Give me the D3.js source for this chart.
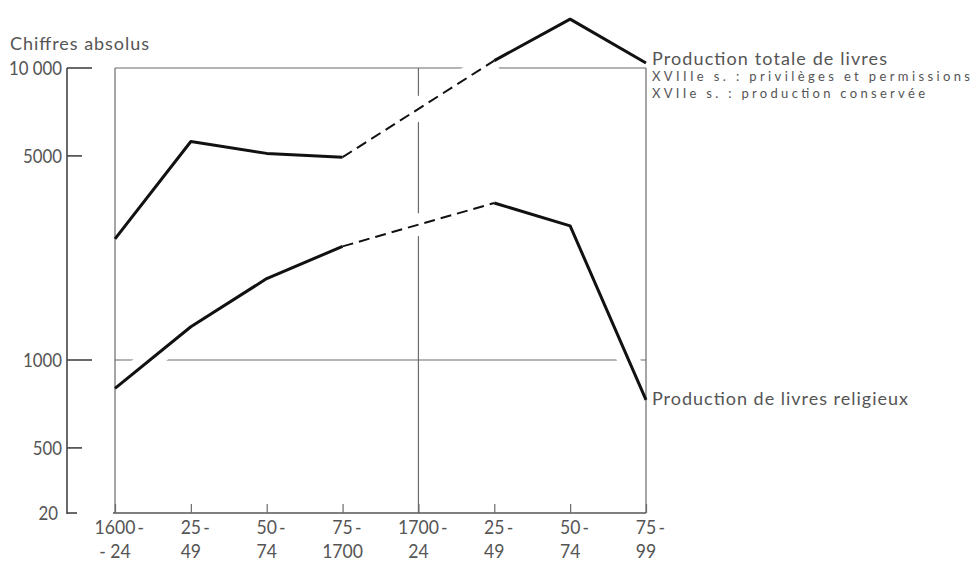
<!DOCTYPE html>
<html>
<head>
<meta charset="utf-8">
<script src="https://cdn.jsdelivr.net/npm/d3@7"></script>
<style>
  body { margin: 0; background: #fff; }
  text { fill: #555; }
</style>
</head>
<body>
<svg id="chart" width="972" height="563"></svg>
<script>
// Book production in France, 1600-1799, by quarter century (log scale)
const periodStart = ["1600", "25", "50", "75", "1700", "25", "50", "75"];
const periodEnd   = ["- 24", "49", "74", "1700", "24", "49", "74", "99"];
// null = no figure for that quarter century (bridged by a dashed line)
const totalBooks     = [2600, 5600, 5100, 4950, null, 10600, 14700, 10400];
const religiousBooks = [800, 1300, 1900, 2450, null, 3450, 2880, 730];

const yTicks      = [10000, 5000, 1000, 500];
const yTickLabels = ["10 000", "5000", "1000", "500"];
const yTickLong   = [true, false, true, false];
const axisFootLabel = "20";
const yTitle = "Chiffres absolus";
const totalLabel = ["Production totale de livres",
                    "XVIIIe s. : privilèges et permissions",
                    "XVIIe s. : production conservée"];
const religiousLabel = "Production de livres religieux";

const svg = d3.select("#chart");
const idx = d3.range(periodStart.length);

const x = d3.scalePoint().domain(idx).range([115, 646]);
const y = d3.scaleLog().domain([1000, 10000]).range([360, 68]);
const yBottom = 513;      // foot of the broken axis
const axisX = 67;

const numFont = "Lato, 'Open Sans', sans-serif";
const txtFont = "Lato, 'Open Sans', sans-serif";
const gridColor = "#6a6a6a";

// narrow the figures the way a condensed face would
function condense(sel, k) {
  sel.each(function () {
    const w = this.getComputedTextLength();
    d3.select(this).attr("textLength", w * k).attr("lengthAdjust", "spacingAndGlyphs");
  });
}

// ---- grid lines that the curves cut through -------------------------------
const grid = svg.append("g").attr("stroke", gridColor).attr("stroke-width", 1.2);
grid.append("line").attr("x1", x(0)).attr("x2", x(7)).attr("y1", y(10000)).attr("y2", y(10000));
grid.append("line").attr("x1", x(0)).attr("x2", x(7)).attr("y1", y(1000)).attr("y2", y(1000));
grid.append("line").attr("x1", x(4)).attr("x2", x(4)).attr("y1", y(10000)).attr("y2", yBottom);

// ---- line generators ------------------------------------------------------
const pts = arr => idx.map(i => ({ i, v: arr[i] }));
const solid = d3.line().defined(d => d.v != null).x(d => x(d.i)).y(d => y(d.v));
const plain = d3.line().x(d => x(d.i)).y(d => y(d.v));

// pairs of defined points on either side of each missing run
function bridges(arr) {
  const out = [];
  for (let i = 0; i < arr.length; i++) {
    if (arr[i] == null) {
      let a = i - 1; while (i < arr.length && arr[i] == null) i++;
      if (a >= 0 && i < arr.length) out.push([{ i: a, v: arr[a] }, { i, v: arr[i] }]);
    }
  }
  return out;
}

// white halo so the grid lines break where the curves cross them
const halo = svg.append("g").attr("fill", "none").attr("stroke", "#fff")
  .attr("stroke-width", 22).attr("stroke-linejoin", "round");
halo.append("path").attr("d", solid(pts(religiousBooks)));
[totalBooks, religiousBooks].forEach(arr =>
  bridges(arr).forEach(b => halo.append("path").attr("d", plain(b))));

// ---- frame ----------------------------------------------------------------
const frame = svg.append("g").attr("stroke", gridColor).attr("stroke-width", 1.2);
frame.append("line").attr("x1", x(0)).attr("x2", x(0)).attr("y1", y(10000)).attr("y2", yBottom);
frame.append("line").attr("x1", x(7)).attr("x2", x(7)).attr("y1", y(10000)).attr("y2", yBottom);

// x axis with upward ticks
const xAxis = svg.append("g").attr("transform", `translate(0,${yBottom})`)
  .call(d3.axisBottom(x).tickSizeInner(-9).tickSizeOuter(0).tickFormat(""));
xAxis.select(".domain").attr("stroke", "#555").attr("stroke-width", 1.6)
  .attr("d", `M${x(0) - 2},0H${x(7)}`);
xAxis.selectAll(".tick line").attr("stroke", gridColor).attr("stroke-width", 1.2);

// two-line period labels: the first number centred on the tick, its dash trailing
const lab = svg.append("g").attr("font-family", numFont).attr("font-size", 20);
idx.forEach(i => {
  const t = lab.append("text").attr("y", 534).text(periodStart[i] + "\u2009-");
  const n = lab.append("text").attr("y", 534).text(periodStart[i]).attr("visibility", "hidden");
  const full = t.node().getComputedTextLength() * 0.88;
  const num = n.node().getComputedTextLength() * 0.88;
  n.remove();
  t.attr("x", x(i) - num / 2).attr("textLength", full).attr("lengthAdjust", "spacingAndGlyphs");
  const b = lab.append("text").attr("x", x(i)).attr("y", 558).attr("text-anchor", "middle")
    .text(periodEnd[i]);
  condense(b, 0.88);
});

// ---- y axis (log, broken at the foot) --------------------------------------
const ya = svg.append("g").attr("stroke", "#444").attr("stroke-width", 1.6);
ya.append("line").attr("x1", axisX).attr("x2", axisX).attr("y1", y(10000)).attr("y2", yBottom + 1);
ya.append("line").attr("x1", axisX).attr("x2", axisX + 10).attr("y1", yBottom).attr("y2", yBottom);
yTicks.forEach((v, k) => {
  ya.append("line").attr("x1", axisX).attr("x2", axisX + (yTickLong[k] ? 25 : 15))
    .attr("y1", y(v)).attr("y2", y(v));
});
const yl = svg.append("g").attr("font-family", numFont).attr("font-size", 20)
  .attr("text-anchor", "end");
yTicks.forEach((v, k) => {
  yl.append("text").attr("x", 62).attr("y", y(v)).attr("dy", "0.36em").text(yTickLabels[k]);
});
yl.append("text").attr("x", 58).attr("y", yBottom).attr("dy", "0.36em").text(axisFootLabel);
condense(yl.selectAll("text"), 0.84);

svg.append("text").attr("x", 10).attr("y", 50).attr("font-family", txtFont)
  .attr("font-size", 18).attr("textLength", 139).attr("lengthAdjust", "spacing")
  .text(yTitle);

// ---- series ---------------------------------------------------------------
const series = svg.append("g").attr("fill", "none").attr("stroke", "#111")
  .attr("stroke-linejoin", "round");
[totalBooks, religiousBooks].forEach(arr => {
  series.append("path").attr("d", solid(pts(arr))).attr("stroke-width", 3);
  bridges(arr).forEach(b => series.append("path").attr("d", plain(b))
    .attr("stroke-width", 2).attr("stroke-dasharray", "11,6"));
});

// ---- series labels at the right end ----------------------------------------
const sl = svg.append("g").attr("font-family", txtFont);
const lx = x(7) + 6;
sl.append("text").attr("x", lx).attr("y", 65).attr("font-size", 18)
  .attr("textLength", 235).attr("lengthAdjust", "spacing").text(totalLabel[0]);
sl.append("text").attr("x", lx).attr("y", 81).attr("font-size", 13)
  .attr("textLength", 318).attr("lengthAdjust", "spacing").text(totalLabel[1]);
sl.append("text").attr("x", lx).attr("y", 98).attr("font-size", 13)
  .attr("textLength", 273).attr("lengthAdjust", "spacing").text(totalLabel[2]);
sl.append("text").attr("x", lx).attr("y", 405).attr("font-size", 18)
  .attr("textLength", 256).attr("lengthAdjust", "spacing").text(religiousLabel);
</script>
</body>
</html>
